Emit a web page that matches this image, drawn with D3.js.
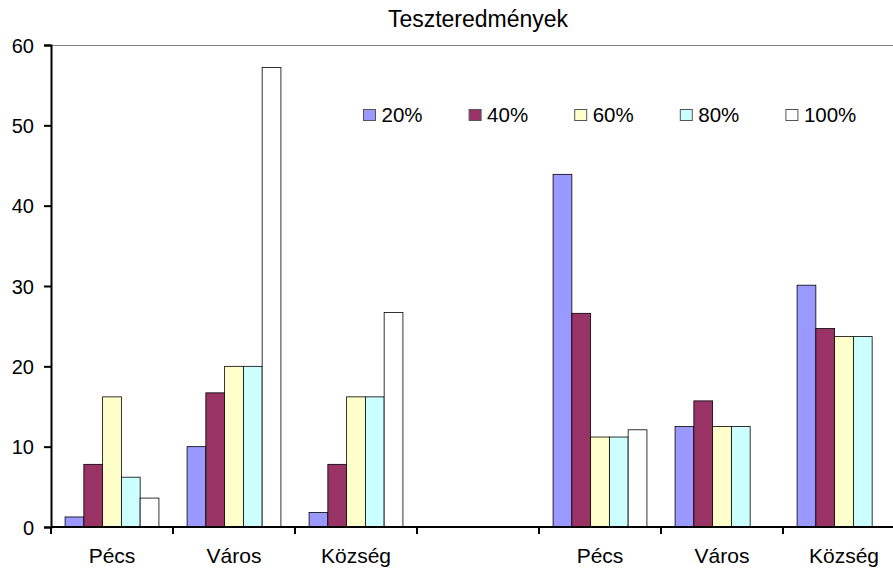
<!DOCTYPE html>
<html><head><meta charset="utf-8">
<script src="https://cdn.jsdelivr.net/npm/d3@7"></script>
<style>body{margin:0;background:#fff}svg{display:block;font-family:"Liberation Sans",Arial,sans-serif}</style>
</head><body><svg id="c" width="893" height="569"></svg>
<script>
const categories = ["Pécs","Város","Község","","Pécs ","Város ","Község "];
const seriesNames = ["20%","40%","60%","80%","100%"];
const s20  = [1.25, 10.0, 1.8, null, 43.9, 12.5, 30.1];
const s40  = [7.8, 16.7, 7.8, null, 26.6, 15.7, 24.7];
const s60  = [16.2, 20.0, 16.2, null, 11.2, 12.5, 23.7];
const s80  = [6.2, 20.0, 16.2, null, 11.2, 12.5, 23.7];
const s100 = [3.6, 57.2, 26.7, null, 12.1, null, null];
const colors = ["#9999FF","#993366","#FFFFCC","#CCFFFF","#FFFFFF"];
const yTicks = [0,10,20,30,40,50,60];
const title = "Teszteredmények";

const series = [s20,s40,s60,s80,s100];
const svg = d3.select("#c");
const pLeft = 51, pRight = 905, pTop = 45, pBottom = 527;
const FS = 20;

const x = d3.scaleBand().domain(categories).range([pLeft,pRight]).paddingInner(0).paddingOuter(0);
const y = d3.scaleLinear().domain([0,60]).range([pBottom,pTop]);
const bw = x.bandwidth()/(5+1.5);
const gap = bw*0.75;

// top border
svg.append("line").attr("x1",pLeft).attr("x2",pRight).attr("y1",pTop+0.5).attr("y2",pTop+0.5).attr("stroke","#808080").attr("stroke-width",1);

// bars
series.forEach((vals,si)=>{
  svg.append("g").selectAll("rect").data(vals.map((v,i)=>({v,c:categories[i]})).filter(d=>d.v!=null))
    .join("rect")
    .attr("x",d=>x(d.c)+gap+si*bw)
    .attr("y",d=>y(d.v))
    .attr("width",bw)
    .attr("height",d=>pBottom-y(d.v))
    .attr("fill",colors[si])
    .attr("stroke","#000").attr("stroke-width",0.8);
});

// y axis
const ya = svg.append("g").attr("transform",`translate(${pLeft},0)`)
  .call(d3.axisLeft(y).tickValues(yTicks).tickSize(7).tickPadding(10).tickFormat(d3.format("d")));
ya.attr("font-size",null).attr("font-family",null);
ya.select(".domain").attr("stroke","#000").attr("stroke-width",2);
ya.selectAll(".tick line").attr("stroke","#000").attr("stroke-width",2);
ya.selectAll("text").style("font-size",FS+"px").attr("fill","#000").attr("dy","0.36em");

// x axis
const xa = svg.append("g").attr("transform",`translate(0,${pBottom})`);
xa.append("line").attr("x1",pLeft).attr("x2",pRight).attr("y1",0).attr("y2",0).attr("stroke","#000").attr("stroke-width",2);
xa.selectAll("line.t").data(d3.range(categories.length+1)).join("line").attr("class","t")
  .attr("x1",i=>pLeft+i*x.bandwidth()).attr("x2",i=>pLeft+i*x.bandwidth())
  .attr("y1",0).attr("y2",7).attr("stroke","#000").attr("stroke-width",2);
xa.selectAll("text").data(categories).join("text")
  .attr("x",d=>x(d)+x.bandwidth()/2).attr("y",36)
  .attr("text-anchor","middle").style("font-size",(FS+1)+"px").attr("fill","#000")
  .text(d=>d.trim());

// title
svg.append("text").attr("x",478).attr("y",27).attr("text-anchor","middle").style("font-size","23px").text(title);

// legend
const lg = svg.append("g");
seriesNames.forEach((n,i)=>{
  const lx = 363 + i*105.6;
  lg.append("rect").attr("x",lx+0.5).attr("y",109.5).attr("width",12).attr("height",11)
    .attr("fill",colors[i]).attr("stroke","#555").attr("stroke-width",1);
  lg.append("text").attr("x",lx+18.5).attr("y",122).style("font-size",(FS+0.5)+"px").text(n);
});
</script></body></html>
